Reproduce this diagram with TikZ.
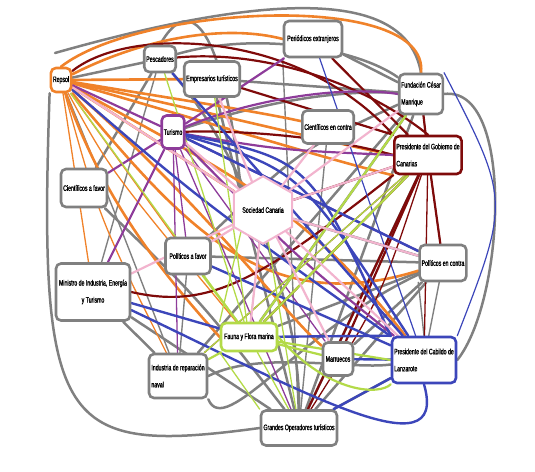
\documentclass[tikz,border=0pt]{standalone}
\usepackage{fontspec}
\setmainfont[FakeStretch=0.65, FakeBold=1.2]{Liberation Sans}
\usetikzlibrary{shapes.geometric,backgrounds}
\definecolor{cOr}{HTML}{F0822A}
\definecolor{cGr}{HTML}{808080}
\definecolor{cDr}{HTML}{7F0A0A}
\definecolor{cPu}{HTML}{8E3C9A}
\definecolor{cBl}{HTML}{3C46BA}
\definecolor{cLi}{HTML}{B3DA48}
\definecolor{cPk}{HTML}{F2B4CE}
\begin{document}
\begin{tikzpicture}[x=1pt,y=-1pt,
  box/.style={draw=cGr, line width=2.6pt, rounded corners=5pt, fill=white,
    font=\fontsize{8}{17}\selectfont, align=left, inner sep=2pt},
  ln/.style={line cap=round},
  Oe/.style={ln, draw=cOr, line width=2.6pt}, oe/.style={ln, draw=cOr, line width=1.3pt},
  Ge/.style={ln, draw=cGr, line width=2.5pt}, ge/.style={ln, draw=cGr, line width=1.4pt},
  Re/.style={ln, draw=cDr, line width=2.2pt}, re/.style={ln, draw=cDr, line width=1.3pt},
  Pe/.style={ln, draw=cPu, line width=2.2pt}, pe/.style={ln, draw=cPu, line width=1.3pt},
  Be/.style={ln, draw=cBl, line width=2.4pt}, be/.style={ln, draw=cBl, line width=1.2pt},
  Le/.style={ln, draw=cLi, line width=2.2pt}, le/.style={ln, draw=cLi, line width=1.3pt},
  Ke/.style={ln, draw=cPk, line width=2.2pt}]
\useasboundingbox (0,0) rectangle (535,471);

% nodes
\node[box, draw=cOr, minimum width=20pt, minimum height=24pt] (repsol) at (61,80) {Repsol};
\node[box, minimum width=28pt, minimum height=26pt] (pescadores) at (160,59) {Pescadores};
\node[box, minimum width=55pt, minimum height=35pt] (empresarios) at (212,79) {Empresarios turísticos};
\node[box, minimum width=58pt, minimum height=36pt] (periodicos) at (313,39) {Periódicos extranjeros};
\node[box, minimum width=41pt, minimum height=40pt] (fundacion) at (421,94) {Fundación César\\Manrique};
\node[box, minimum width=51pt, minimum height=33pt] (cientcontra) at (328,127) {Científicos en contra};
\node[box, draw=cDr, minimum width=67pt, minimum height=38pt] (pg) at (428,155) {Presidente del Gobierno de\\Canarias};
\node[box, draw=cPu, minimum width=21pt, minimum height=33pt] (turismo) at (173,132) {Turismo};
\node[box, minimum width=46pt, minimum height=38pt] (cientfavor) at (84,188) {Científicos a favor};
\node[regular polygon, regular polygon sides=6, shape border rotate=30, draw=cPk, line width=2pt,
  fill=white, minimum size=66pt, inner sep=0pt, font=\fontsize{8}{17}\selectfont] (sociedad) at (263,210) {Sociedad Canaria};
\node[box, minimum width=45pt, minimum height=36pt] (polfavor) at (188,256) {Políticos a favor};
\node[box, minimum width=45pt, minimum height=36pt] (polcontra) at (443,263) {Políticos en contra};
\node[box, minimum width=74pt, minimum height=57pt, align=center] (ministro) at (93,292) {Ministro de Industria, Energía\\y Turismo};
\node[box, draw=cLi, minimum width=56pt, minimum height=28pt] (fauna) at (249,337) {Fauna y Flora marina};
\node[box, minimum width=30pt, minimum height=33pt] (marruecos) at (338,359) {Marruecos};
\node[box, draw=cBl, minimum width=64pt, minimum height=46pt] (cabildo) at (424,360) {Presidente del Cabildo de\\Lanzarote};
\node[box, minimum width=58pt, minimum height=44pt] (industria) at (178,376) {Industria de reparación\\naval};
\node[box, minimum width=76pt, minimum height=35pt] (grandes) at (299,428) {Grandes Operadores turísticos};
\coordinate (gtop) at (55,53);

\begin{pgfonlayer}{background}
% gray
\draw[Ge] (repsol.south west) .. controls (38,430) and (60,455) .. (grandes.west);
\draw[Ge] (fundacion.east) .. controls (515,85) and (505,300) .. (cabildo.east);
\draw[Ge] (gtop) .. controls (330,-25) and (410,10) .. (fundacion.north);
\draw[Ge] (repsol) -- (pescadores);
\draw[ge] (repsol) .. controls (110,200) .. (industria);
\draw[Ge] (pescadores) -- (cientfavor);
\draw[ge] (pescadores) -- (ministro);
\draw[Ge] (pescadores.north) .. controls (185,0) and (220,5) .. (sociedad.north west);
\draw[Ge] (pescadores) .. controls (260,30) and (360,50) .. (fundacion);
\draw[Ge] (pescadores) .. controls (240,150) and (300,300) .. (grandes);
\draw[Ge] (empresarios) -- (fundacion);
\draw[Ge] (periodicos) -- (fundacion);
\draw[ge] (periodicos.south west) -- (grandes);
\draw[Ge] (turismo) .. controls (270,100) and (340,90) .. (fundacion);
\draw[Ge] (fundacion) -- (grandes);
\draw[Ge] (fundacion) -- (fauna);
\draw[ge] (fundacion) -- (pg);
\draw[Ge] (fundacion) .. controls (300,150) .. (polfavor);
\draw[Ge] (polfavor) -- (polcontra);
\draw[Ge] (fauna) -- (polcontra);
\draw[Ge] (sociedad) -- (polcontra);
\draw[Ge] (grandes) -- (polcontra);
\draw[ge] (polcontra) -- (cabildo);
\draw[ge] (polcontra.south west) -- (cabildo.north);
\draw[Ge] (ministro) -- (grandes);
\draw[Ge] (ministro) -- (industria);
\draw[Ge] (industria.east) .. controls (260,350) and (350,370) .. (cabildo);
\draw[Ge] (industria.south east) .. controls (225,440) and (300,330) .. (polcontra);
\draw[Ge] (grandes) -- (cabildo);
\draw[Ge] (grandes) -- (pg);
\draw[ge] (polfavor) -- (industria);
\draw[Ge] (industria) -- (fundacion);
\draw[ge] (cientcontra) -- (grandes);
\draw[Ge] (marruecos) -- (polcontra);
\draw[ge] (pg) -- (polcontra);
\draw[Ge] (cientfavor) .. controls (200,300) .. (grandes);
\draw[Ge] (empresarios) -- (grandes);
% orange
\draw[Oe] (repsol.north) .. controls (140,5) and (430,-10) .. (fundacion.north);
\draw[Oe] (repsol) .. controls (150,35) and (230,25) .. (periodicos.west);
\draw[Oe] (repsol) -- (empresarios);
\draw[Oe] (repsol) .. controls (150,95) and (250,110) .. (cientcontra);
\draw[Oe] (repsol) .. controls (200,110) and (320,140) .. (pg.west);
\draw[Oe] (repsol) .. controls (200,120) and (330,160) .. (pg.south west);
\draw[Oe] (repsol) -- (sociedad);
\draw[Oe] (repsol) .. controls (180,220) and (260,320) .. (polcontra);
\draw[Oe] (repsol) .. controls (200,200) and (290,320) .. (marruecos);
\draw[oe] (repsol) .. controls (110,170) .. (fauna);
\draw[oe] (repsol) .. controls (100,220) .. (industria);
\draw[oe] (repsol) -- (ministro);
\draw[oe] (repsol) -- (polfavor);
\draw[Oe] (repsol) .. controls (100,190) and (150,260) .. (fauna.west);
\draw[Oe] (repsol) .. controls (220,170) and (300,200) .. (cabildo);
% dark red
\draw[Re] (repsol) .. controls (130,25) and (300,30) .. (pg.north west);
\draw[Re] (pescadores) .. controls (260,50) and (360,80) .. (pg.north);
\draw[Re] (empresarios) -- (pg.north west);
\draw[Re] (turismo) .. controls (260,130) and (340,140) .. (pg.west);
\draw[Re] (periodicos) -- (pg);
\draw[Re] (fundacion) -- (pg);
\draw[Re] (sociedad) -- (pg);
\draw[Re] (ministro.east) .. controls (210,310) and (260,280) .. (pg.south west);
\draw[Re] (pg) -- (grandes);
\draw[re] (pg) .. controls (380,300) .. (grandes);
\draw[Re] (pg) -- (marruecos);
\draw[re] (pg) -- (cabildo);
\draw[Re] (pg) -- (polcontra);
\draw[Re] (pg) -- (fauna);
\draw[re] (pg) -- (industria);
% purple
\draw[Pe] (turismo) -- (repsol);
\draw[Pe] (turismo) -- (cientfavor);
\draw[Pe] (turismo) -- (ministro);
\draw[pe] (turismo) -- (industria);
\draw[pe] (turismo) -- (polfavor);
\draw[Pe] (turismo) .. controls (250,100) and (340,85) .. (fundacion.west);
\draw[Pe] (turismo) -- (periodicos);
\draw[Pe] (turismo) .. controls (280,150) .. (pg.west);
\draw[Pe] (turismo) .. controls (300,260) .. (cabildo);
\draw[pe] (turismo) -- (marruecos);
\draw[pe] (turismo) -- (grandes);
\draw[Pe] (turismo) -- (polcontra);
% blue
\draw[Be] (repsol) .. controls (200,200) .. (cabildo);
\draw[Be] (pescadores) -- (cabildo);
\draw[Be] (turismo) .. controls (300,170) .. (cabildo);
\draw[Be] (turismo) .. controls (310,160) .. (cabildo.north west);
\draw[Be] (turismo) -- (polcontra);
\draw[Be] (ministro) -- (fauna);
\draw[Be] (ministro) .. controls (300,390) and (450,475) .. (cabildo.south);
\draw[Be] (marruecos) -- (cabildo);
\draw[Be] (polfavor) -- (cabildo);
\draw[be] (periodicos) -- (cabildo);
\draw[be] (fundacion.north east) .. controls (510,200) .. (cabildo.north east);
\draw[Be] (grandes) -- (cabildo);
\draw[Be] (fauna) -- (cabildo.north west);
% lime
\draw[le] (fauna) -- (repsol);
\draw[le] (fauna) -- (pescadores);
\draw[le] (fauna) -- (empresarios);
\draw[Le] (fauna) -- (fundacion);
\draw[Le] (fauna) -- (pg);
\draw[le] (fauna) -- (sociedad);
\draw[le] (fauna.north west) -- (sociedad.south west);
\draw[Le] (fauna) -- (polfavor);
\draw[Le] (fauna) -- (industria);
\draw[le] (fauna) -- (grandes);
\draw[le] (fauna.south west) -- (grandes.north west);
\draw[le] (sociedad) -- (grandes);
\draw[Le] (fauna.east) .. controls (330,395) and (380,395) .. (cabildo.south west);
\draw[Le] (fauna) -- (marruecos);
\draw[Le] (fauna) -- (cabildo.west);
\draw[le] (pg) -- (industria);
% pink
\draw[Ke] (sociedad) -- (turismo);
\draw[Ke] (sociedad) -- (repsol);
\draw[Ke] (sociedad) -- (pg);
\draw[Ke] (sociedad) -- (fundacion);
\draw[Ke] (sociedad) -- (polcontra);
\draw[Ke] (sociedad) -- (cabildo);
\draw[Ke] (sociedad) -- (polfavor);
\draw[Ke] (sociedad) -- (ministro);
\draw[Ke] (sociedad) -- (empresarios);
\draw[Ke] (sociedad) -- (cientcontra);
\draw[Ke] (sociedad) -- (fauna);
\draw[Ke] (sociedad) -- (marruecos);
\end{pgfonlayer}
\end{tikzpicture}
\end{document}
